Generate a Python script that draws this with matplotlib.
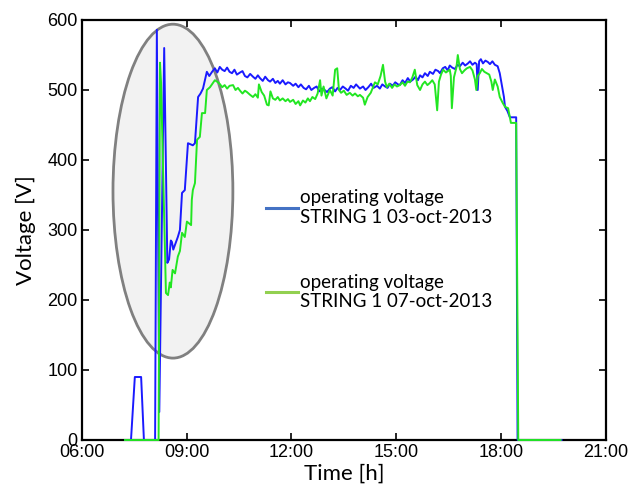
import matplotlib.pyplot as plt
from matplotlib.patches import Ellipse
from matplotlib.lines import Line2D

# time in decimal hours, voltage in V
t_oct03 = [7.24, 7.41, 7.52, 7.70, 7.78, 8.10, 8.15, 8.22, 8.36, 8.45, 8.50, 8.55, 8.58, 8.62,
           8.67, 8.75, 8.81, 8.87, 8.95, 9.04, 9.18, 9.24, 9.33, 9.40, 9.47, 9.58, 9.65, 9.73,
           9.81, 9.88, 9.95, 10.02, 10.09, 10.16, 10.23, 10.30, 10.37, 10.44, 10.53, 10.60,
           10.67, 10.74, 10.82, 10.90, 10.97, 11.04, 11.10, 11.18, 11.25, 11.33, 11.39, 11.47,
           11.54, 11.61, 11.67, 11.75, 11.83, 11.90, 11.96, 12.05, 12.12, 12.20, 12.27, 12.35,
           12.42, 12.50, 12.57, 12.65, 12.72, 12.80, 12.87, 12.95, 13.02, 13.10, 13.17, 13.25,
           13.32, 13.39, 13.47, 13.55, 13.62, 13.70, 13.78, 13.85, 13.96, 14.05, 14.12, 14.20,
           14.28, 14.35, 14.45, 14.53, 14.60, 14.68, 14.75, 14.82, 14.90, 14.97, 15.05, 15.10,
           15.18, 15.25, 15.33, 15.40, 15.48, 15.55, 15.62, 15.68, 15.75, 15.82, 15.90, 15.96,
           16.05, 16.12, 16.20, 16.25, 16.33, 16.40, 16.47, 16.53, 16.60, 16.68, 16.75, 16.82,
           16.90, 16.97, 17.05, 17.11, 17.18, 17.25, 17.30, 17.33, 17.37, 17.42, 17.48, 17.55,
           17.62, 17.68, 17.75, 17.82, 17.90, 17.96, 18.08, 18.11, 18.18, 18.25, 18.43, 18.47,
           19.73]
v_oct03 = [0, 0, 90, 90, 0, 0, 586, 40, 560, 253, 258, 285, 283, 272,
           279, 290, 300, 353, 357, 424, 421, 424, 490, 495, 502, 526, 520, 526,
           531, 525, 533, 529, 527, 532, 526, 524, 529, 522, 525, 527,
           520, 518, 523, 519, 516, 521, 517, 513, 519, 514, 512, 516,
           510, 513, 509, 514, 508, 511, 510, 506, 509, 504, 508, 503,
           501, 506, 500, 503, 505, 498, 502, 500, 497, 502, 504, 498,
           503, 500, 505, 502, 499, 506, 503, 508, 502, 505, 500, 504,
           509, 503, 506, 502, 508, 505, 503, 509, 506, 511, 508, 507,
           514, 510, 517, 512, 515, 519, 514, 521, 518, 524, 520, 526,
           523, 529, 527, 524, 531, 533, 528, 535, 532, 530, 536, 534,
           539, 535, 538, 541, 536, 539, 537, 500, 541, 544, 538, 542,
           540, 537, 541, 536, 534, 524, 490, 476, 470, 461, 461, 0,
           0]

t_oct07 = [7.24, 8.20, 8.24, 8.27, 8.41, 8.47, 8.52, 8.55, 8.60, 8.67, 8.75, 8.81, 8.87, 8.95,
           9.01, 9.13, 9.15, 9.18, 9.24, 9.30, 9.38, 9.44, 9.53, 9.58, 9.67, 9.81, 9.90, 9.96,
           10.02, 10.09, 10.16, 10.23, 10.33, 10.40, 10.47, 10.53, 10.60, 10.67, 10.73, 10.82,
           10.90, 10.97, 11.04, 11.07, 11.15, 11.22, 11.30, 11.35, 11.40, 11.47, 11.54, 11.61,
           11.67, 11.75, 11.83, 11.90, 11.96, 12.05, 12.12, 12.20, 12.25, 12.33, 12.40, 12.47,
           12.53, 12.60, 12.68, 12.75, 12.82, 12.86, 12.92, 13.00, 13.10, 13.18, 13.25, 13.31,
           13.36, 13.42, 13.50, 13.58, 13.67, 13.75, 13.82, 13.90, 13.96, 14.05, 14.10, 14.18,
           14.27, 14.39, 14.47, 14.55, 14.62, 14.68, 14.73, 14.80, 14.88, 14.95, 15.02, 15.10,
           15.18, 15.25, 15.32, 15.39, 15.46, 15.53, 15.60, 15.68, 15.75, 15.82, 15.89, 15.96,
           16.03, 16.10, 16.17, 16.22, 16.28, 16.34, 16.42, 16.53, 16.56, 16.59, 16.65, 16.72,
           16.76, 16.82, 16.88, 16.95, 17.02, 17.11, 17.18, 17.25, 17.29, 17.33, 17.39, 17.45,
           17.52, 17.59, 17.66, 17.72, 17.76, 17.82, 17.90, 17.96, 18.04, 18.11, 18.20, 18.28,
           18.43, 18.49, 19.70]
v_oct07 = [0, 0, 539, 511, 210, 207, 225, 218, 243, 238, 262, 270, 296, 290,
           312, 307, 343, 357, 367, 429, 433, 467, 467, 500, 504, 514, 511, 508,
           504, 507, 502, 506, 507, 500, 503, 499, 495, 499, 497, 493,
           490, 494, 489, 508, 497, 492, 479, 478, 498, 488, 486, 490,
           485, 488, 484, 487, 483, 486, 480, 484, 478, 485, 482, 488,
           484, 490, 487, 495, 514, 492, 505, 488, 500, 492, 529, 531,
           500, 496, 499, 493, 496, 492, 495, 491, 493, 489, 479, 490,
           496, 511, 508, 520, 536, 512, 504, 509, 503, 508, 505, 507,
           511, 506, 512, 511, 518, 529, 507, 500, 508, 512, 507, 510,
           514, 508, 471, 512, 522, 529, 525, 529, 520, 474, 518, 532,
           550, 530, 524, 528, 531, 533, 528, 515, 500, 520, 524, 530,
           526, 524, 522, 512, 500, 515, 505, 490, 482, 476, 474, 453,
           453, 0, 0]

hour_ticks = [6, 9, 12, 15, 18, 21]
hour_labels = ['06:00', '09:00', '12:00', '15:00', '18:00', '21:00']
volt_ticks = [0, 100, 200, 300, 400, 500, 600]

legend_labels = ['operating voltage\nSTRING 1 03-oct-2013',
                 'operating voltage\nSTRING 1 07-oct-2013']

fig = plt.figure(figsize=(6.33, 4.95), dpi=100)
ax = fig.add_axes([81.7 / 633, 1 - 440 / 495, (606 - 81.7) / 633, 420 / 495])

# highlighted start-up region
ax.add_patch(Ellipse((8.61, 355.5), 3.43, 477, facecolor='#f2f2f2',
                     edgecolor='#808080', lw=2, zorder=1))

ax.plot(t_oct03, v_oct03, color='#1a1aff', lw=1.4, zorder=3, clip_on=False)
ax.plot(t_oct07, v_oct07, color='#22e622', lw=1.4, zorder=4, clip_on=False)

ax.set_xlim(6, 21)
ax.set_ylim(0, 600)
ax.set_xticks(hour_ticks)
ax.set_xticklabels(hour_labels)
ax.set_yticks(volt_ticks)
ax.tick_params(direction='in', length=5, width=1.2, top=True, right=True,
               labelsize=13, pad=3)
for lab in ax.get_xticklabels() + ax.get_yticklabels():
    lab.set_family(['Liberation Sans', 'DejaVu Sans'])
for sp in ax.spines.values():
    sp.set_linewidth(1.6)
    sp.set_zorder(2)

ax.set_xlabel('Time [h]', family='Lato', fontsize=16, labelpad=2)
ax.set_ylabel('Voltage [V]', family='Lato', fontsize=16, labelpad=8)

handles = [Line2D([], [], color='#4472c4', lw=2.2),
           Line2D([], [], color='#92d050', lw=2.2)]
ax.legend(handles, legend_labels, loc='upper left', bbox_to_anchor=(0.333, 0.62),
          frameon=False, prop={'family': 'Lato', 'size': 13.5},
          handlelength=1.75, handletextpad=0.1, labelspacing=2.55, borderpad=0)

fig.savefig('out.png', dpi=100)
